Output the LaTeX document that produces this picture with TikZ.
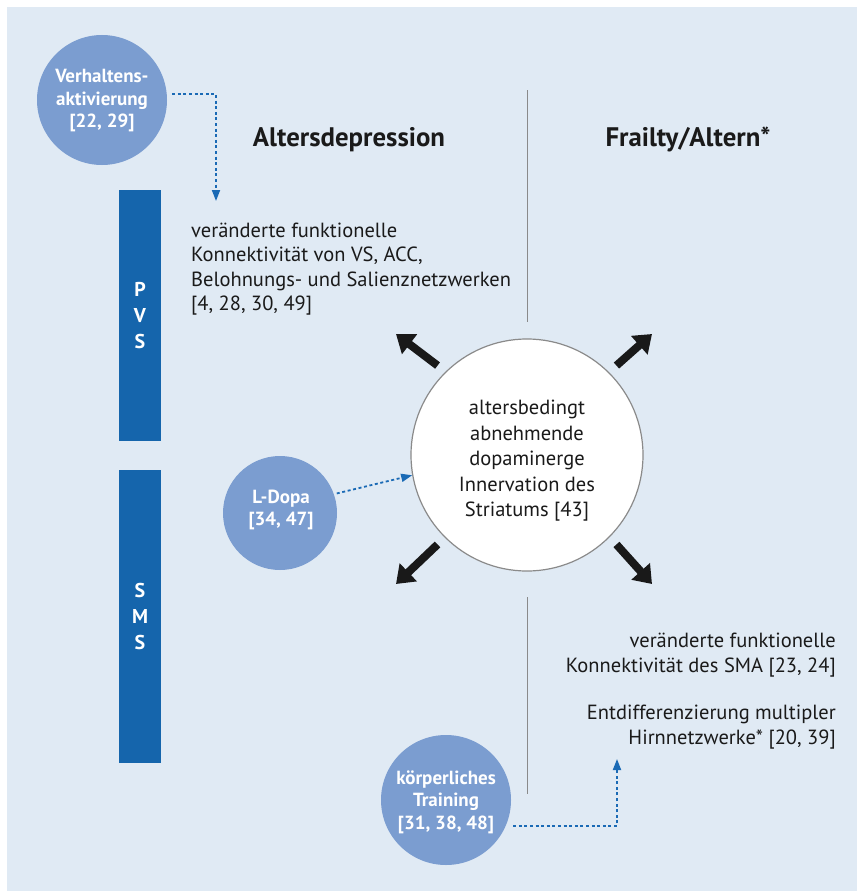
\documentclass[tikz,border=0pt]{standalone}
\usepackage{fontspec}
\setmainfont{PT Sans}
\usetikzlibrary{arrows.meta}
\definecolor{bgc}{HTML}{E0EAF4}
\definecolor{barc}{HTML}{1565AC}
\definecolor{circc}{HTML}{7B9DD0}
\definecolor{dotc}{HTML}{1A6AB5}
\definecolor{linec}{HTML}{8A8A8A}
\definecolor{txtc}{HTML}{1A1A1A}
\tikzset{
  bluecirc/.style={circle, fill=circc, text=white, align=center, inner sep=0pt},
  bluetext/.style={text=white, font=\fontsize{19}{22.5}\selectfont\bfseries, align=center, inner sep=0pt},
  bar/.style={fill=barc, draw=none, inner sep=0pt},
  bartext/.style={text=white, font=\fontsize{20}{26}\selectfont\bfseries, align=center},
  dotarrow/.style={draw=dotc, line width=1.8pt, dash pattern=on 3pt off 2.6pt, -{Triangle[length=11pt,width=8pt]}},
  bigarrow/.style={draw=black!90, line width=8pt, -{Triangle[length=17pt,width=24pt]}},
  bodytext/.style={text=txtc, font=\fontsize{20.5}{24.5}\selectfont, inner sep=0pt},
  headtext/.style={text=txtc, font=\fontsize{26.8}{30}\selectfont\bfseries, inner sep=0pt},
  divider/.style={draw=linec, line width=1pt}
}
\begin{document}
\begin{tikzpicture}[x=1pt,y=-1pt]
\useasboundingbox (0,0) rectangle (857,891);
\fill[bgc] (7,7) rectangle (857,891);
% bars
\node[bar, minimum width=42pt, minimum height=251pt] (pvs) at (140,315.5) {};
\node[bartext] (pvst) at (pvs) {P\\V\\S};
\node[bar, minimum width=42pt, minimum height=293pt] (sms) at (140,616.5) {};
\node[bartext] (smst) at (sms) {S\\M\\S};
% headings
\node[headtext, anchor=base] (hdep) at (349,146) {Altersdepression};
\node[headtext, anchor=base] (hfr) at (688,146) {Frailty/Altern*};
% dividers
\coordinate (d1a) at (527,90);
\coordinate (d1b) at (527,322);
\coordinate (d2a) at (527,597);
\coordinate (d2b) at (527,794);
\draw[divider] (d1a) -- (d1b);
\draw[divider] (d2a) -- (d2b);
% text blocks
\node[bodytext, anchor=north west, align=left] (tdep) at (191,222.5) {veränderte funktionelle\\Konnektivität von VS, ACC,\\Belohnungs- und Salienznetzwerken\\{}[4, 28, 30, 49]};
\node[bodytext, anchor=north east, align=right] (tsma) at (836,633) {veränderte funktionelle\\Konnektivität des SMA [23, 24]};
\node[bodytext, anchor=north east, align=right] (tent) at (836,705) {Entdifferenzierung multipler\\Hirnnetzwerke* [20, 39]};
% central circle
\node[circle, draw=linec, line width=1.2pt, fill=white, minimum size=232pt] (center) at (527,455) {};
\node[text=txtc, align=center, inner sep=0pt, font=\fontsize{20.5}{25.5}\selectfont] (ctext) at (527,461) {altersbedingt\\abnehmende\\dopaminerge\\Innervation des\\Striatums [43]};
% big arrows
\coordinate (nw) at (396,334);
\coordinate (ne) at (652,334);
\coordinate (sw) at (396,584);
\coordinate (se) at (652,584);
\draw[bigarrow] (center.135) ++(-7,-7) coordinate (nws) (nws) -- (nw);
\draw[bigarrow] (center.45) ++(7,-7) coordinate (nes) (nes) -- (ne);
\draw[bigarrow] (center.225) ++(-7,7) coordinate (sws) (sws) -- (sw);
\draw[bigarrow] (center.-45) ++(7,7) coordinate (ses) (ses) -- (se);
% blue circles
\node[bluecirc, minimum size=130pt] (verh) at (102,100) {};
\node[bluetext] (verht) at (102,101) {Verhaltens-\\aktivierung\\{}[22, 29]};
\node[bluecirc, minimum size=114pt] (ldopa) at (280,513) {};
\node[bluetext] (ldopat) at (281,510) {L-Dopa\\{}[34, 47]};
\node[bluecirc, minimum size=130pt] (train) at (446,800) {};
\node[bluetext] (traint) at (446,802) {körperliches\\Training\\{}[31, 38, 48]};
% dotted connectors
\coordinate (v1) at (216,94);
\coordinate (v2) at (216,201);
\draw[dotarrow] (verh.east |- v1) ++(5,0) -- (v1) -- (v2);
\draw[dotarrow] (ldopa.20) ++(3,0) -- (center.190);
\coordinate (t1) at (617,826);
\coordinate (t2) at (617,759);
\draw[dotarrow] (train.east |- t1) ++(2,0) -- (t1) -- (t2);
\end{tikzpicture}
\end{document}
